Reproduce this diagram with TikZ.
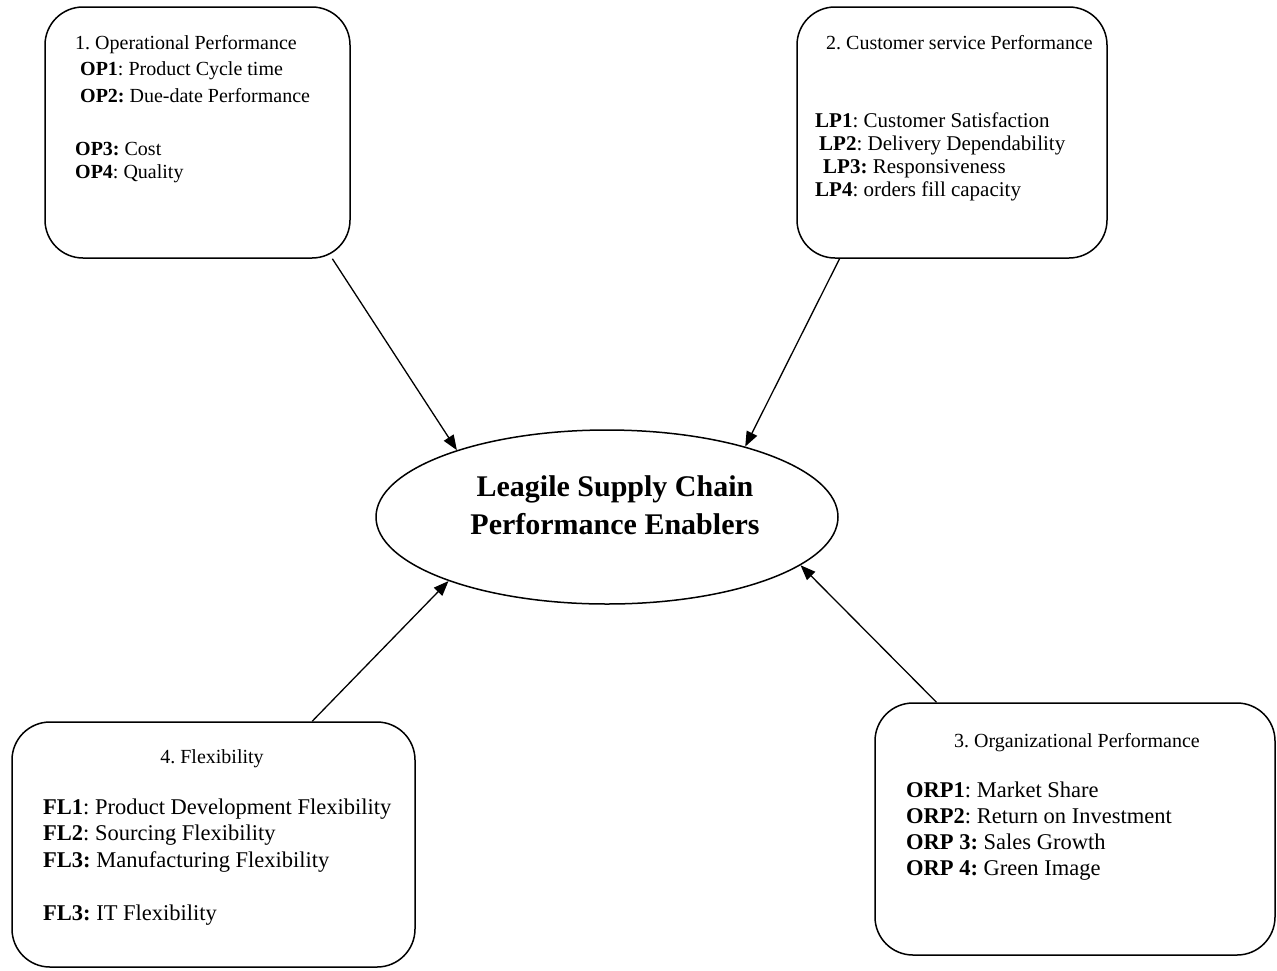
\documentclass[tikz,border=0pt]{standalone}
\usepackage{fontspec}
\setmainfont{Liberation Serif}
\usetikzlibrary{arrows.meta,shapes.geometric,calc}
\newcommand{\bigln}[1]{\scalebox{1.125}{#1}}
\frenchspacing
\begin{document}
\begin{tikzpicture}[x=1pt,y=-1pt,
  rbox/.style={draw,line width=1.5pt,rounded corners=38pt,rectangle,inner sep=0pt},
  ln/.style={anchor=base west,inner sep=0pt},
  lnc/.style={anchor=base,inner sep=0pt},
  fA/.style={font=\fontsize{20}{24}\selectfont\frenchspacing},
  fB/.style={font=\fontsize{21}{25}\selectfont\frenchspacing},
  conn/.style={line width=1.3pt,-{Triangle[length=15pt,width=11.5pt]}}
]
\useasboundingbox (0,0) rectangle (1277,970);
% boxes
\node[rbox,minimum width=305pt,minimum height=251pt] (b1) at (197.5,132.5) {};
\node[rbox,minimum width=310pt,minimum height=251pt] (b2) at (952,132.5) {};
\node[rbox,minimum width=400pt,minimum height=252pt] (b3) at (1075,829) {};
\node[rbox,minimum width=403pt,minimum height=245pt] (b4) at (213.5,844.5) {};
% ellipse
\node[draw,line width=1.5pt,ellipse,minimum width=462pt,minimum height=174pt,inner sep=0pt] (ell) at (607,517) {};
\node[align=center,inner sep=0pt,font=\fontsize{30}{38}\selectfont\bfseries] (title) at (615,505)
  {Leagile Supply Chain\\Performance Enablers};
% box 1 text
\node[ln,fA] (t1a) at (75,49) {1. Operational Performance};
\node[ln,fA] (t1b) at (80,75) {\textbf{OP1}: Product Cycle time};
\node[ln,fA] (t1c) at (80,102) {\textbf{OP2:} Due-date Performance};
\node[ln,fA] (t1d) at (75,155) {\textbf{OP3:} Cost};
\node[ln,fA] (t1e) at (75,178) {\textbf{OP4}: Quality};
% box 2 text
\node[ln,fA] (t2a) at (826,49) {2. Customer service Performance};
\node[ln,fB] (t2b) at (815,127) {\textbf{LP1}: Customer Satisfaction};
\node[ln,fB] (t2c) at (819,150) {\textbf{LP2}: Delivery Dependability};
\node[ln,fB] (t2d) at (823,173) {\textbf{LP3:} Responsiveness};
\node[ln,fB] (t2e) at (815,196) {\textbf{LP4}: orders fill capacity};
% box 3 text
\node[lnc,fA] (t3a) at (1077,747) {3. Organizational Performance};
\node[ln,fA] (t3b) at (906,797) {\bigln{\textbf{ORP1}: Market Share}};
\node[ln,fA] (t3c) at (906,823) {\bigln{\textbf{ORP2}: Return on Investment}};
\node[ln,fA] (t3d) at (906,849) {\bigln{\textbf{ORP 3:} Sales Growth}};
\node[ln,fA] (t3e) at (906,875) {\bigln{\textbf{ORP 4:} Green Image}};
% box 4 text
\node[lnc,fA] (t4a) at (212,763) {4. Flexibility};
\node[ln,fA] (t4b) at (43,814) {\bigln{\textbf{FL1}: Product Development Flexibility}};
\node[ln,fA] (t4c) at (43,840) {\bigln{\textbf{FL2}: Sourcing Flexibility}};
\node[ln,fA] (t4d) at (43,867) {\bigln{\textbf{FL3:} Manufacturing Flexibility}};
\node[ln,fA] (t4e) at (43,920) {\bigln{\textbf{FL3:} IT Flexibility}};
% connectors
\draw[conn] ($(b1.south west)!0.94!(b1.south east)$) -- (ell.156);
\draw[conn] ($(b2.south west)!0.139!(b2.south east)$) -- (ell.27);
\draw[conn] ($(b4.north west)!0.744!(b4.north east)$) -- (ell.202);
\draw[conn] ($(b3.north west)!0.155!(b3.north east)$) -- (ell.346);
\end{tikzpicture}
\end{document}
